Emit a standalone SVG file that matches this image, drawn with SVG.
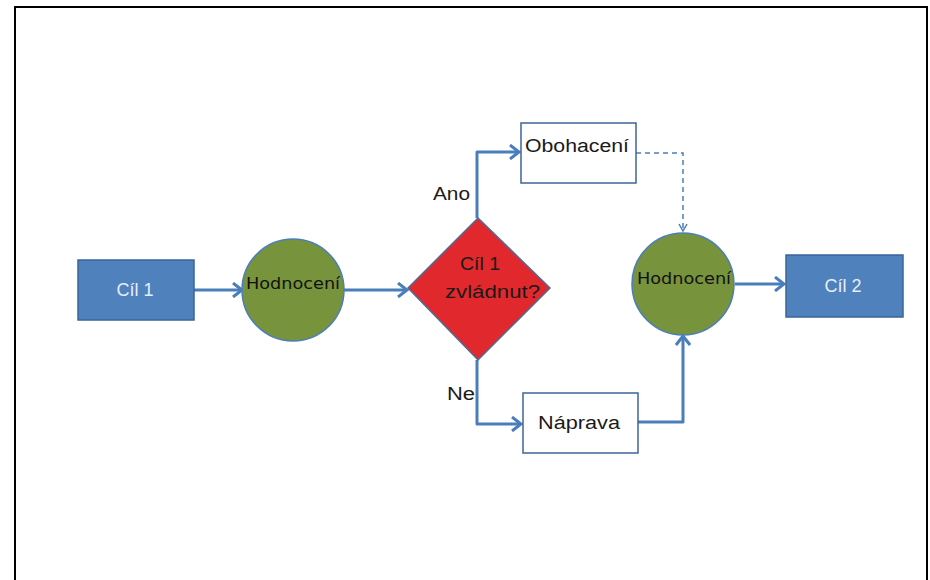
<svg xmlns="http://www.w3.org/2000/svg" width="930" height="580" viewBox="0 0 930 580">
<style>
.frame{fill:none;stroke:#000;stroke-width:2}
.blue{fill:#4F81BD;stroke:#3A6698;stroke-width:1.5}
.green{fill:#77933C;stroke:#4A7EBB;stroke-width:1.5}
.red{fill:#E1282C;stroke:#4A6E9A;stroke-width:1.5}
.white{fill:#fff;stroke:#3E6496;stroke-width:1.5}
.conn{fill:none;stroke:#4A7EBB;stroke-width:3;stroke-linejoin:round}
.dash{fill:none;stroke:#4A7EBB;stroke-width:1.5;stroke-dasharray:5 4}
.t{font-family:"Liberation Sans","Open Sans",sans-serif;font-size:18px;fill:#1a1a1a}
.tw{font-family:"Liberation Sans","Open Sans",sans-serif;font-size:18px;fill:#E8EEF8;text-anchor:middle}
.tg{font-family:"DejaVu Sans",sans-serif;font-size:16px;fill:#111}
</style>
<defs>
<marker id="ah" markerWidth="14" markerHeight="16" refX="11" refY="8" orient="auto" markerUnits="userSpaceOnUse">
<path d="M2,1 L11,8 L2,15" fill="none" stroke="#4A7EBB" stroke-width="3" stroke-linejoin="miter"/>
</marker>
<marker id="ahs" markerWidth="10" markerHeight="10" refX="8" refY="5" orient="auto" markerUnits="userSpaceOnUse">
<path d="M1,1 L8,5 L1,9" fill="none" stroke="#4A7EBB" stroke-width="1.5"/>
</marker>
</defs>
<path class="frame" d="M15,580 V7 H927 V580"/>
<g id="connectors">
<path class="conn" d="M194,290 H242" marker-end="url(#ah)"/>
<path class="conn" d="M344,290 H407" marker-end="url(#ah)"/>
<path class="conn" d="M477,218 V152 H519" marker-end="url(#ah)"/>
<path class="conn" d="M477,360 V424 H521" marker-end="url(#ah)"/>
<path class="dash" d="M636,153 H683 V231" marker-end="url(#ahs)"/>
<path class="conn" d="M638,422 H683 V336" marker-end="url(#ah)"/>
<path class="conn" d="M735,284 H784" marker-end="url(#ah)"/>
</g>
<g id="cil1">
<rect class="blue" x="78" y="260" width="116" height="60"/>
<text class="tw" x="135" y="296">Cíl 1</text>
</g>
<g id="hodnoceni1">
<circle class="green" cx="293" cy="290" r="51"/>
<text class="tg" x="246" y="289" textLength="94" lengthAdjust="spacingAndGlyphs">Hodnocení</text>
</g>
<g id="rozhodnuti">
<polygon class="red" points="478,218 550,288 478,360 408,288"/>
<text class="t" x="460" y="270" textLength="40" lengthAdjust="spacingAndGlyphs">Cíl 1</text>
<text class="t" x="445" y="298" textLength="95" lengthAdjust="spacingAndGlyphs">zvládnut?</text>
</g>
<g id="obohaceni">
<rect class="white" x="521" y="123" width="115" height="60"/>
<text class="t" x="525" y="152" textLength="104" lengthAdjust="spacingAndGlyphs">Obohacení</text>
</g>
<g id="naprava">
<rect class="white" x="523" y="393" width="115" height="60"/>
<text class="t" x="538" y="429" textLength="82" lengthAdjust="spacingAndGlyphs">Náprava</text>
</g>
<g id="hodnoceni2">
<circle class="green" cx="683" cy="284" r="51"/>
<text class="tg" x="637" y="284" textLength="94" lengthAdjust="spacingAndGlyphs">Hodnocení</text>
</g>
<g id="cil2">
<rect class="blue" x="786" y="255" width="117" height="62"/>
<text class="tw" x="843" y="292">Cíl 2</text>
</g>
<g id="labels">
<text class="t" x="433" y="200" textLength="37" lengthAdjust="spacingAndGlyphs">Ano</text>
<text class="t" x="447" y="400" textLength="28" lengthAdjust="spacingAndGlyphs">Ne</text>
</g>
</svg>
